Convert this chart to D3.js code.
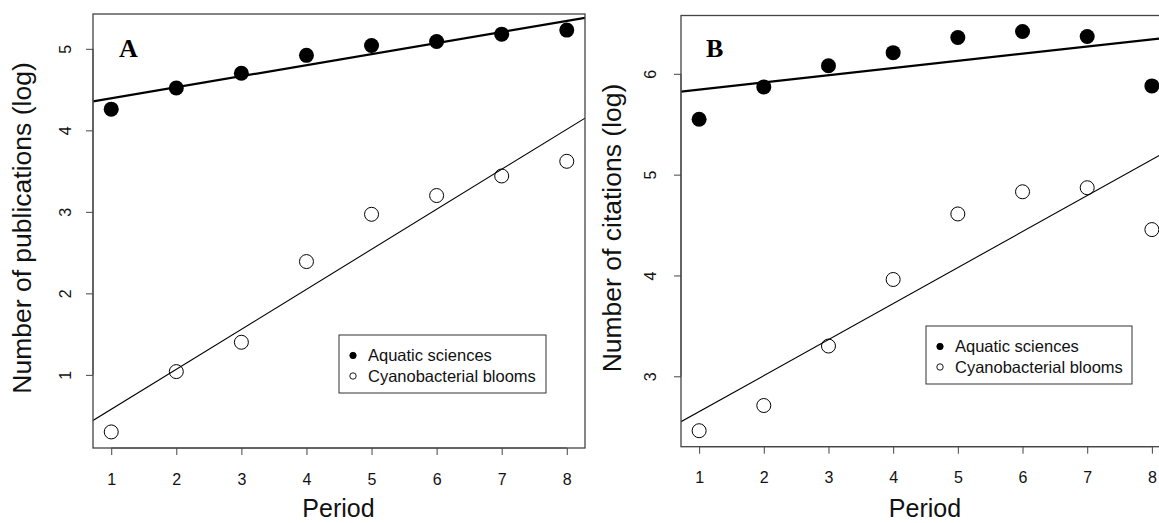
<!DOCTYPE html>
<html>
<head>
<meta charset="utf-8">
<script src="https://cdn.jsdelivr.net/npm/d3@7"></script>
<style>
  body { margin: 0; background: #fff; overflow: hidden; }
  svg { display: block; font-family: "Liberation Sans", Arial, sans-serif; }
  .tick text { font-family: "Liberation Sans", Arial, sans-serif; }
</style>
</head>
<body>
<svg id="chart" width="1159" height="523"></svg>
<script>
const periods = [1, 2, 3, 4, 5, 6, 7, 8];
const pubAquatic = [4.26, 4.52, 4.70, 4.92, 5.04, 5.09, 5.18, 5.23];
const pubCyano = [0.30, 1.04, 1.40, 2.39, 2.97, 3.20, 3.44, 3.62];
const citAquatic = [5.55, 5.87, 6.08, 6.21, 6.36, 6.42, 6.37, 5.88];
const citCyano = [2.46, 2.71, 3.30, 3.96, 4.61, 4.83, 4.87, 4.455];
const seriesNames = ["Aquatic sciences", "Cyanobacterial blooms"];
const pubTicks = [1, 2, 3, 4, 5];
const citTicks = [3, 4, 5, 6];

const svg = d3.select("#chart");

// R-like axis padding: 4% on each side
function pad(ext) {
  const d = (ext[1] - ext[0]) * 0.04;
  return [ext[0] - d, ext[1] + d];
}

function fit(xs, ys) {
  const mx = d3.mean(xs), my = d3.mean(ys);
  const sxy = d3.sum(xs, (x, i) => (x - mx) * (ys[i] - my));
  const sxx = d3.sum(xs, x => (x - mx) ** 2);
  const b = sxy / sxx;
  return { a: my - b * mx, b: b };
}

function panel(opt) {
  const g = svg.append("g");
  const x = d3.scaleLinear().domain(pad([1, 8])).range([opt.left, opt.right]);
  const y = d3.scaleLinear()
    .domain(pad(d3.extent(opt.filled.concat(opt.open))))
    .range([opt.bottom, opt.top]);

  // regression lines, clipped to the box
  const clipId = "clip" + opt.label;
  g.append("clipPath").attr("id", clipId)
    .append("rect")
    .attr("x", opt.left).attr("y", opt.top)
    .attr("width", opt.right - opt.left).attr("height", opt.bottom - opt.top);

  const [x0, x1] = x.domain();
  [[opt.filled, 2.2], [opt.open, 1.1]].forEach(([vals, w]) => {
    const f = fit(periods, vals);
    g.append("line")
      .attr("clip-path", `url(#${clipId})`)
      .attr("x1", x(x0)).attr("y1", y(f.a + f.b * x0))
      .attr("x2", x(x1)).attr("y2", y(f.a + f.b * x1))
      .attr("stroke", "#000").attr("stroke-width", w);
  });

  g.selectAll(".filled").data(opt.filled).enter().append("circle")
    .attr("cx", (d, i) => x(periods[i]))
    .attr("cy", d => y(d))
    .attr("r", 7.5)
    .attr("fill", "#000");

  g.selectAll(".open").data(opt.open).enter().append("circle")
    .attr("cx", (d, i) => x(periods[i]))
    .attr("cy", d => y(d))
    .attr("r", 7)
    .attr("fill", "none")
    .attr("stroke", "#000")
    .attr("stroke-width", 1);

  // box
  g.append("rect")
    .attr("x", opt.left).attr("y", opt.top)
    .attr("width", opt.right - opt.left).attr("height", opt.bottom - opt.top)
    .attr("fill", "none").attr("stroke", "#444").attr("stroke-width", 1.3);

  // x axis
  const xa = g.append("g").attr("transform", `translate(0,${opt.bottom})`)
    .call(d3.axisBottom(x).tickValues(periods).tickSize(7).tickFormat(d3.format("d")));
  xa.select(".domain").attr("d", `M${x(1)},0H${x(8)}`).attr("stroke", "#444");
  xa.selectAll(".tick line").attr("stroke", "#444");
  xa.selectAll("text")
    .attr("y", opt.xLabY).attr("dy", null)
    .attr("font-size", 16).attr("fill", "#111");

  // y axis
  const ya = g.append("g").attr("transform", `translate(${opt.left},0)`)
    .call(d3.axisLeft(y).tickValues(opt.ticks).tickSize(7).tickFormat(d3.format("d")));
  ya.select(".domain").attr("d", `M0,${y(opt.ticks[0])}V${y(opt.ticks[opt.ticks.length - 1])}`)
    .attr("stroke", "#444");
  ya.selectAll(".tick line").attr("stroke", "#444");
  ya.selectAll("text")
    .attr("x", null).attr("dy", null)
    .attr("text-anchor", "middle")
    .attr("transform", `translate(${opt.yLabX},0) rotate(-90)`)
    .attr("font-size", 16).attr("fill", "#111");

  // titles
  g.append("text")
    .attr("x", opt.periodX).attr("y", 517)
    .attr("text-anchor", "middle").attr("font-size", 25).attr("fill", "#111")
    .text("Period");
  g.append("text")
    .attr("transform", `translate(${opt.titleX},228) rotate(-90)`)
    .attr("text-anchor", "middle").attr("font-size", opt.titleSize).attr("fill", "#111")
    .text(opt.ytitle);

  g.append("text")
    .attr("x", opt.labelX).attr("y", 57)
    .style("font-family", "'Liberation Serif', 'Times New Roman', serif")
    .attr("font-weight", "bold").attr("font-size", 26)
    .text(opt.label);

  // legend
  const lg = g.append("g").attr("transform", `translate(${opt.legX},${opt.legY})`);
  lg.append("rect").attr("width", opt.legW).attr("height", 58)
    .attr("fill", "#fff").attr("stroke", "#333").attr("stroke-width", 1);
  seriesNames.forEach((name, i) => {
    lg.append("circle")
      .attr("cx", 14).attr("cy", 20.5 + i * 20.5).attr("r", 3.2)
      .attr("fill", i === 0 ? "#000" : "#fff").attr("stroke", "#000").attr("stroke-width", 0.9);
    lg.append("text")
      .attr("x", 29).attr("y", 20.5 + i * 20.5).attr("dy", "0.35em")
      .attr("font-size", 16.5).attr("fill", "#111")
      .text(name);
  });
}

panel({
  label: "A", left: 93, right: 585, top: 14, bottom: 448,
  filled: pubAquatic, open: pubCyano, ticks: pubTicks,
  ytitle: "Number of publications (log)", titleX: 31, titleSize: 26.5, labelX: 119,
  xLabY: 37, yLabX: -22, periodX: 338.5,
  legX: 339, legY: 335, legW: 207
});

panel({
  label: "B", left: 681, right: 1170, top: 15.5, bottom: 446.7,
  filled: citAquatic, open: citCyano, ticks: citTicks,
  ytitle: "Number of citations (log)", titleX: 621, titleSize: 26.5, labelX: 706,
  xLabY: 36, yLabX: -25, periodX: 925,
  legX: 926, legY: 326, legW: 206
});
</script>
</body>
</html>
